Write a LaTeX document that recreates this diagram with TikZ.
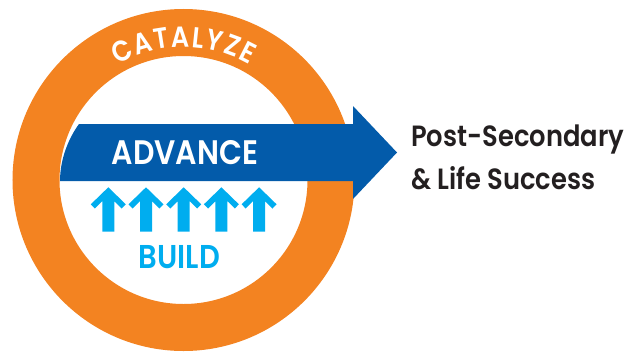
\documentclass[tikz,border=0pt]{standalone}
\usepackage{fontspec}
\usepackage{tikz}
\usetikzlibrary{decorations.text}
\newfontfamily\headfont{Poppins SemiBold}[FakeStretch=0.88]
\definecolor{ringorange}{RGB}{243,131,33}
\definecolor{advblue}{RGB}{3,91,170}
\definecolor{buildblue}{RGB}{0,173,239}
\definecolor{inkblack}{RGB}{35,31,32}

\begin{document}
\begin{tikzpicture}[x=1pt,y=-1pt,
  ring/.style={draw=ringorange,line width=47pt},
  word/.style={font=\headfont\fontsize{34}{36}\selectfont,inner sep=0pt,anchor=base},
  goal/.style={font=\headfont\fontsize{29.3}{31}\selectfont,text=inkblack,inner sep=0pt,anchor=base west},
  up arrow/.pic={\fill[buildblue] (0,0) -- (-17.5,17) -- (-13.4,21.2) -- (-6,13.8) -- (-6,44.4) -- (6,44.4) -- (6,13.8) -- (13.4,21.2) -- (17.5,17) -- cycle;}]
  \useasboundingbox (0,0) rectangle (634,351);
  %ring
  \coordinate (c) at (183.5,180);
  \draw[ring] (c) circle[radius=147.5pt];
  \path[decorate,decoration={text along path,text align=center,
    text={|\color{white}\headfont\fontsize{29}{32}\selectfont|C{\kern1.6pt}A{\kern1.6pt}T{\kern1.6pt}A{\kern1.6pt}L{\kern1.6pt}Y{\kern1.6pt}Z{\kern1.6pt}E}}]
    (c) ++(150:133pt) arc[start angle=150,end angle=30,radius=133pt];
  %band
  \fill[advblue] (79,124) -- (353,124) -- (353,106) -- (397,152.5) -- (353,199) -- (353,181) -- (60,181) .. controls (60,160) and (68,139) .. (79,124) -- cycle;
  \node[word,text=white] (advance) at (185,164) {ADVANCE};
  %build
  \pic (b1) at (108.3,187.3) {up arrow};
  \pic (b2) at (146,187.3) {up arrow};
  \pic (b3) at (183.7,187.3) {up arrow};
  \pic (b4) at (221.4,187.3) {up arrow};
  \pic (b5) at (259.1,187.3) {up arrow};
  \node[word,text=buildblue,font=\headfont\fontsize{33}{36}\selectfont] (build) at (179.4,268.7) {BUILD};
  %goal
  \node[goal] (post) at (411,146) {Post-Secondary};
  \node[goal] (life) at (411,189) {\& Life Success};
\end{tikzpicture}
\end{document}
